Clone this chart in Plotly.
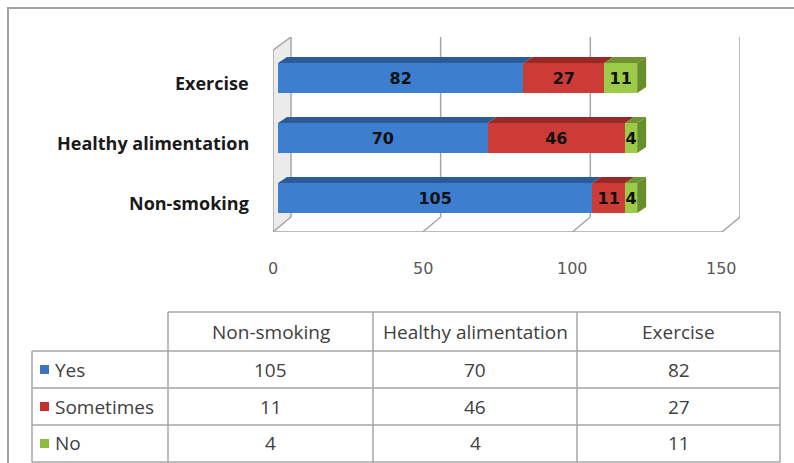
import plotly.graph_objects as go

# ---------------- data ----------------
categories = ["Non-smoking", "Healthy alimentation", "Exercise"]
series_names = ["Yes", "Sometimes", "No"]
yes_vals = [105, 70, 82]
sometimes_vals = [11, 46, 27]
no_vals = [4, 4, 11]
x_ticks = [0, 50, 100, 150]

series_vals = [yes_vals, sometimes_vals, no_vals]
front_cols = ["#3D7ECF", "#CC3B36", "#9BCB47"]
top_cols = ["#2C5B99", "#982925", "#6E9330"]
side_col = "#6A8D2B"
legend_cols = ["#3A72C4", "#C3302E", "#8DBB3F"]

# ---------------- geometry (pixels) ----------------
W, H = 794, 463
L, R, T, B = 273, 740, 37, 232
PXU = 2.993            # px per x unit
FRONT = -5 / PXU       # front plane offset (x units)
BACK = FRONT + 18 / PXU
X0 = FRONT
X1 = (R - 278) / PXU
YFB = -0.5667
YBB = YFB + 15 / 60
YTOP = 2.6833

def PX(x):
    return (x - L) / (R - L)

def PY(y):
    return (B - y) / (B - T)

ypos = list(range(len(categories)))
BW = 0.5
DX = 9 / PXU
DY = 6 / 60

fig = go.Figure()

# 3D top faces & side faces built from data
for si in range(3):
    xs, ys = [], []
    for ci in range(len(categories)):
        x0 = sum(series_vals[k][ci] for k in range(si))
        x1 = x0 + series_vals[si][ci]
        yt = ypos[ci] + BW / 2
        xs += [x0, x1, x1 + DX, x0 + DX, x0, None]
        ys += [yt, yt, yt + DY, yt + DY, yt, None]
    fig.add_trace(go.Scatter(x=xs, y=ys, fill="toself", fillcolor=top_cols[si],
                             line=dict(width=0), mode="lines", hoverinfo="skip",
                             showlegend=False))
xs, ys = [], []
for ci in range(len(categories)):
    xe = yes_vals[ci] + sometimes_vals[ci] + no_vals[ci]
    yt = ypos[ci] + BW / 2
    yb = ypos[ci] - BW / 2
    xs += [xe, xe + DX, xe + DX, xe, xe, None]
    ys += [yt, yt + DY, yb + DY, yb, yt, None]
fig.add_trace(go.Scatter(x=xs, y=ys, fill="toself", fillcolor=side_col,
                         line=dict(width=0), mode="lines", hoverinfo="skip",
                         showlegend=False))

for si in range(3):
    fig.add_trace(go.Bar(
        y=ypos, x=series_vals[si], orientation="h", width=BW,
        name=series_names[si], marker=dict(color=front_cols[si], line=dict(width=0)),
        text=series_vals[si], textposition="inside", insidetextanchor="middle",
        constraintext="none", textangle=0,
        textfont=dict(family="DejaVu Sans", size=16, color="#111111", weight="bold"),
        showlegend=False, hoverinfo="skip"))

shapes = []
grid = dict(color="#A6A6A6", width=1.5)
# left wall
shapes.append(dict(type="path", xref="x", yref="y",
                   path=f"M {FRONT},{YFB} L {FRONT},{YTOP-0.22} L {BACK},{YTOP} L {BACK},{YBB} Z",
                   fillcolor="#EBEBEB", line=grid, layer="below"))
# gridlines
for v in x_ticks[1:]:
    shapes.append(dict(type="line", xref="x", yref="y", x0=v + BACK, x1=v + BACK,
                       y0=YBB, y1=YTOP, line=grid, layer="below"))
    shapes.append(dict(type="line", xref="x", yref="y", x0=v + BACK, x1=v + FRONT,
                       y0=YBB, y1=YFB, line=grid, layer="below"))
# floor front line
shapes.append(dict(type="line", xref="x", yref="y", x0=FRONT, x1=x_ticks[-1] + FRONT,
                   y0=YFB, y1=YFB, line=grid, layer="below"))

# outer frame
shapes.append(dict(type="rect", xref="paper", yref="paper", x0=PX(8), x1=PX(900),
                   y0=PY(8), y1=PY(700), line=dict(color="#A0A0A0", width=2)))

# data table
tcol = "#A6A6A6"
col_x = [168, 373, 577, 780]
row_y = [312, 351, 388, 425, 462]
tl = dict(color=tcol, width=1.5)
shapes.append(dict(type="line", xref="paper", yref="paper", x0=PX(col_x[0]), x1=PX(col_x[-1]),
                   y0=PY(row_y[0]), y1=PY(row_y[0]), line=tl))
for ry in row_y[1:]:
    shapes.append(dict(type="line", xref="paper", yref="paper", x0=PX(32), x1=PX(col_x[-1]),
                       y0=PY(ry), y1=PY(ry), line=tl))
shapes.append(dict(type="line", xref="paper", yref="paper", x0=PX(32), x1=PX(32),
                   y0=PY(row_y[1]), y1=PY(row_y[-1]), line=tl))
for cx in col_x:
    shapes.append(dict(type="line", xref="paper", yref="paper", x0=PX(cx), x1=PX(cx),
                       y0=PY(row_y[0]), y1=PY(row_y[-1]), line=tl))

annotations = []
tfont = dict(family="Open Sans", size=19, color="#404040")
for ci, c in enumerate(categories):
    annotations.append(dict(xref="paper", yref="paper", x=PX((col_x[ci] + col_x[ci + 1]) / 2),
                            y=PY((row_y[0] + row_y[1]) / 2), text=c, showarrow=False,
                            font=tfont, xanchor="center", yanchor="middle"))
for si, s in enumerate(series_names):
    yc = (row_y[si + 1] + row_y[si + 2]) / 2
    shapes.append(dict(type="rect", xref="paper", yref="paper", x0=PX(40), x1=PX(49),
                       y0=PY(yc - 4.5), y1=PY(yc + 4.5), fillcolor=legend_cols[si],
                       line=dict(width=0)))
    annotations.append(dict(xref="paper", yref="paper", x=PX(53), y=PY(yc), text=s,
                            showarrow=False, font=tfont, xanchor="left", yanchor="middle"))
    for ci in range(len(categories)):
        annotations.append(dict(xref="paper", yref="paper",
                                x=PX((col_x[ci] + col_x[ci + 1]) / 2), y=PY(yc),
                                text=str(series_vals[si][ci]), showarrow=False, font=tfont,
                                xanchor="center", yanchor="middle"))

# category labels (left of the wall)
for ci, c in enumerate(categories):
    annotations.append(dict(xref="paper", yref="y", x=PX(251), y=ypos[ci] - 0.08, text=c,
                            showarrow=False, xanchor="right", yanchor="middle",
                            font=dict(family="Open Sans", size=18, color="#1A1A1A",
                                      weight="bold")))

# x tick labels on the front floor edge
for v in x_ticks:
    annotations.append(dict(xref="x", yref="paper", x=v + FRONT, y=PY(268), text=str(v),
                            showarrow=False, xanchor="center", yanchor="middle",
                            font=dict(family="DejaVu Sans", size=16, color="#595959")))

fig.update_layout(
    width=W, height=H, barmode="stack",
    margin=dict(l=L, r=W - R, t=T, b=H - B, autoexpand=False),
    paper_bgcolor="white", plot_bgcolor="rgba(0,0,0,0)",
    xaxis=dict(range=[X0, X1], showgrid=False, zeroline=False, showticklabels=False,
               showline=False, fixedrange=True),
    yaxis=dict(range=[YFB, YTOP], showgrid=False, zeroline=False, showline=False,
               showticklabels=False, ticks=""),
    shapes=shapes, annotations=annotations, showlegend=False,
)

fig.write_html("out.html")
